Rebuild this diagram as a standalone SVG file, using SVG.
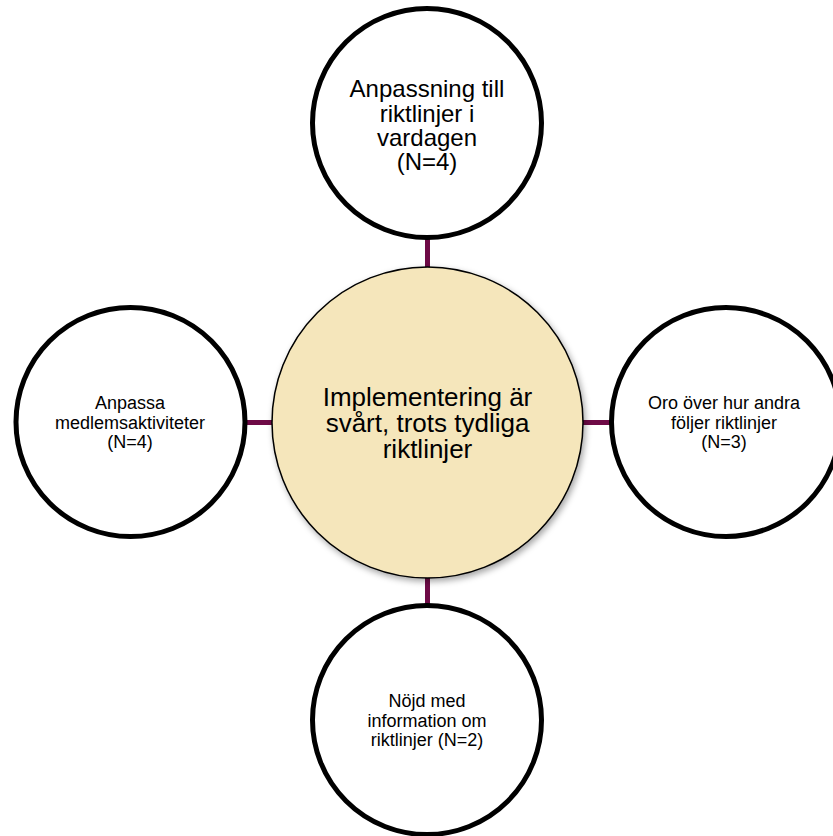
<svg xmlns="http://www.w3.org/2000/svg" width="833" height="836" viewBox="0 0 833 836">
  <defs>
    <filter id="shadow" x="-10%" y="-10%" width="125%" height="125%">
      <feDropShadow dx="2" dy="3" stdDeviation="3" flood-color="#000" flood-opacity="0.35"/>
    </filter>
    <style>
      .conn { stroke: #6E0A46; stroke-width: 5; fill: none; }
      .sat { fill: #FFFFFF; stroke: #000000; stroke-width: 5; }
      .hub { fill: #F5E6BB; stroke: #000000; stroke-width: 1.5; filter: url(#shadow); }
      text { font-family: "Liberation Sans", Arial, sans-serif; fill: #000000; text-anchor: middle; }
      .big { font-size: 26px; }
      .mid { font-size: 24px; }
      .small { font-size: 18px; }
    </style>
  </defs>
  <rect width="833" height="836" fill="#FFFFFF"/>
  <g id="connectors">
    <line class="conn" x1="427.5" y1="238" x2="427.5" y2="269"/>
    <line class="conn" x1="245" y1="422.5" x2="274" y2="422.5"/>
    <line class="conn" x1="581" y1="422.5" x2="611" y2="422.5"/>
    <line class="conn" x1="427.5" y1="576" x2="427.5" y2="605"/>
  </g>
  <g id="node-center">
    <circle class="hub" cx="427.5" cy="422.5" r="155.5"/>
    <text class="big" x="427.5" y="405.5">Implementering är</text>
    <text class="big" x="427.5" y="431.5">svårt, trots tydliga</text>
    <text class="big" x="427.5" y="457.5">riktlinjer</text>
  </g>
  <g id="node-top">
    <circle class="sat" cx="427" cy="123" r="114.5"/>
    <text class="mid" x="427" y="97">Anpassning till</text>
    <text class="mid" x="427" y="121.5">riktlinjer i</text>
    <text class="mid" x="427" y="146">vardagen</text>
    <text class="mid" x="427" y="170">(N=4)</text>
  </g>
  <g id="node-left">
    <circle class="sat" cx="130.5" cy="422" r="114.5"/>
    <text class="small" x="130" y="409">Anpassa</text>
    <text class="small" x="130" y="428.5">medlemsaktiviteter</text>
    <text class="small" x="130" y="448">(N=4)</text>
  </g>
  <g id="node-right">
    <circle class="sat" cx="726" cy="422" r="114.5"/>
    <text class="small" x="724" y="409">Oro över hur andra</text>
    <text class="small" x="724" y="428.5">följer riktlinjer</text>
    <text class="small" x="724" y="448">(N=3)</text>
  </g>
  <g id="node-bottom">
    <circle class="sat" cx="427" cy="720" r="114.5"/>
    <text class="small" x="427" y="707">Nöjd med</text>
    <text class="small" x="427" y="726.5">information om</text>
    <text class="small" x="427" y="746">riktlinjer (N=2)</text>
  </g>
</svg>
